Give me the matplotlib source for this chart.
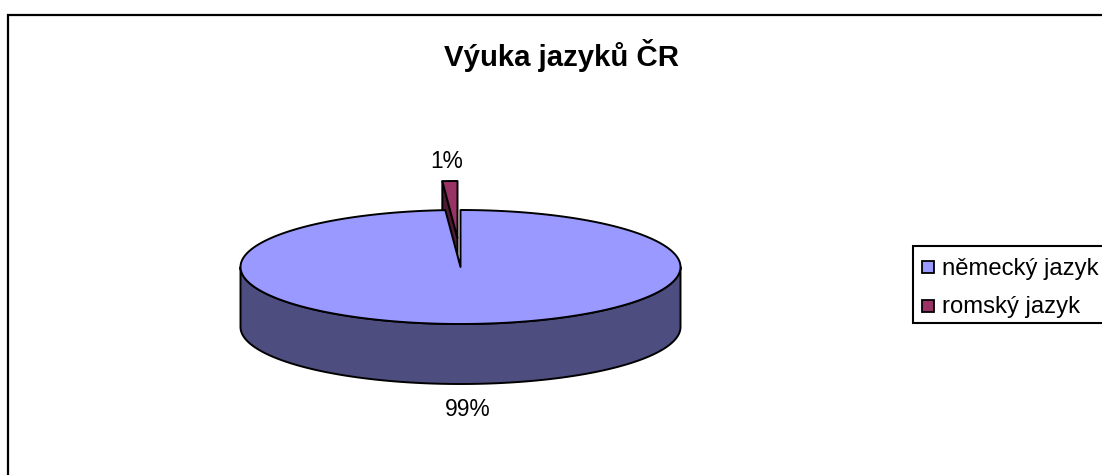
import numpy as np
import matplotlib
matplotlib.use("Agg")
import matplotlib.pyplot as plt
from matplotlib.patches import Polygon, Rectangle

plt.rcParams['font.family'] = ['Liberation Sans', 'DejaVu Sans']

title = "Výuka jazyků ČR"
categories = ["německý jazyk", "romský jazyk"]
values = [98.9, 1.1]
colors = ['#9999FF', '#993366']
side_colors = ['#4D4D80', '#4D1A33']

# pie is drawn by hand, matplotlib has no 3D pie with this tilt
cx, cy = 460.5, 267
rx, ry = 220, 57
depth = 60
explode = (-3, -29)


def arc(t0, t1, n=200, dx=0, dy=0):
    t = np.radians(np.linspace(t0, t1, n))
    return np.column_stack([cx + dx + rx * np.sin(t), cy + dy - ry * np.cos(t)])


fig = plt.figure(figsize=(11.02, 4.75), dpi=100)
ax = fig.add_axes([0, 0, 1, 1])
ax.set_xlim(0, 1102)
ax.set_ylim(475, 0)
ax.axis('off')

# chart frame, bottom and right run off the picture
ax.plot([7.5, 7.5, 1102], [475, 15, 15], color='black', lw=1.6, solid_joinstyle='miter')

angle = 360 * values[0] / sum(values)
line = dict(edgecolor='black', linewidth=1.4, joinstyle='round')

# side of the big slice, only the front half shows
front = arc(90, 270)
side = np.vstack([front, (front + [0, depth])[::-1]])
ax.add_patch(Polygon(side, closed=True, facecolor=side_colors[0], zorder=1, **line))

# exploded small slice
dx, dy = explode
small = arc(angle, 360, n=20, dx=dx, dy=dy)
apex = np.array([cx + dx, cy + dy])
inner = np.array([small[0], apex, apex + [0, depth], small[0] + [0, depth]])
ax.add_patch(Polygon(inner, closed=True, facecolor=side_colors[1], zorder=2, **line))
ax.add_patch(Polygon(np.vstack([apex, small]), closed=True, facecolor=colors[1], zorder=2, **line))

# top of the big slice
big = np.vstack([[cx, cy], arc(0, angle, n=400)])
ax.add_patch(Polygon(big, closed=True, facecolor=colors[0], zorder=3, **line))

# percent labels
ax.text(468, 409, f"{round(values[0])}%", ha='center', va='center', fontsize=16.4, zorder=5)
ax.text(447, 161, f"{round(values[1])}%", ha='center', va='center', fontsize=16.4, zorder=5)

ax.text(561, 55, title, ha='center', va='center', fontsize=21.2, fontweight='bold')

# legend
ax.add_patch(Rectangle((913, 246), 200, 76.5, facecolor='white', edgecolor='black', lw=1.5, zorder=4))
for i, (name, c) in enumerate(zip(categories, colors)):
    y = 267 + i * 38.5
    ax.add_patch(Rectangle((922, y - 6), 12, 12, facecolor=c, edgecolor='black', lw=1.3, zorder=5))
    ax.text(942, y + 1.5, name, ha='left', va='center', fontsize=17.2, zorder=5)

fig.savefig("out.png", dpi=100)
